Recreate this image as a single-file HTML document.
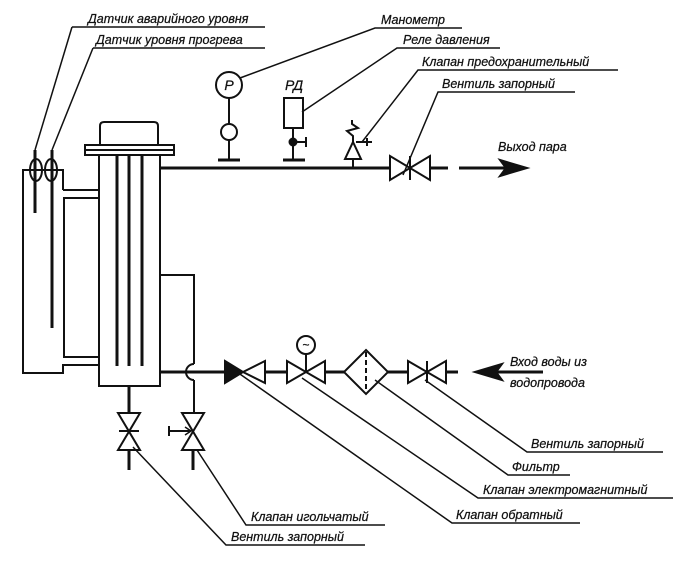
<!DOCTYPE html>
<html><head><meta charset="utf-8"><style>
html,body{margin:0;padding:0;background:#fff}
svg text{font-family:"Liberation Sans","DejaVu Sans",sans-serif;font-style:italic;font-size:12.5px;fill:#111;stroke:#111;stroke-width:0.25}
</style></head><body>
<svg width="700" height="559" viewBox="0 0 700 559" xmlns="http://www.w3.org/2000/svg">
<g fill="none" stroke="#111" stroke-width="2">
<!-- left vessel -->
<polyline points="63,190 63,170 23,170 23,373 63,373 63,365 99,365"/>
<polyline points="63,190 99,190"/>
<rect x="64" y="198" width="35" height="159"/>
<!-- column -->
<polyline points="99,155 99,386 160,386 160,155"/>
<rect x="85" y="145" width="89" height="10"/>
<line x1="85" y1="150" x2="174" y2="150"/>
<path d="M100,145 V126 Q100,122 104,122 H154 Q158,122 158,126 V145"/>
<line x1="117" y1="155" x2="117" y2="366" stroke-width="3"/>
<line x1="129" y1="155" x2="129" y2="366" stroke-width="3"/>
<line x1="142" y1="155" x2="142" y2="366" stroke-width="3"/>
<!-- sensors -->
<line x1="35" y1="150" x2="35" y2="213" stroke-width="3"/>
<line x1="52" y1="150" x2="52" y2="328" stroke-width="3"/>
<ellipse cx="36" cy="170" rx="6" ry="11"/>
<ellipse cx="51" cy="170" rx="6" ry="11"/>
<line x1="35" y1="150" x2="72" y2="27" stroke-width="1.5"/>
<line x1="52" y1="150" x2="93" y2="48" stroke-width="1.5"/>
<line x1="72" y1="27" x2="265" y2="27" stroke-width="1.5"/>
<line x1="93" y1="48" x2="265" y2="48" stroke-width="1.5"/>
<!-- steam line -->
<line x1="160" y1="168" x2="390" y2="168" stroke-width="3"/>
<line x1="430" y1="168" x2="448" y2="168" stroke-width="3"/>
<line x1="459" y1="168" x2="512" y2="168" stroke-width="3"/>
<polygon points="500,160 527,168 500,176 506,168" fill="#111"/>
<!-- manometer -->
<circle cx="229" cy="85" r="13"/>
<line x1="229" y1="98" x2="229" y2="124"/>
<circle cx="229" cy="132" r="8"/>
<line x1="229" y1="140" x2="229" y2="160"/>
<line x1="218" y1="160" x2="240" y2="160" stroke-width="3"/>
<!-- РД -->
<rect x="284" y="98" width="19" height="30"/>
<line x1="293" y1="128" x2="293" y2="160"/>
<circle cx="293" cy="142" r="3.5" fill="#111"/>
<line x1="293" y1="142" x2="306" y2="142"/>
<line x1="306" y1="137" x2="306" y2="147"/>
<line x1="283" y1="160" x2="305" y2="160" stroke-width="3"/>
<!-- safety valve -->
<line x1="353" y1="168" x2="353" y2="159"/>
<polygon points="345,159 361,159 353,142"/>
<polyline points="353,142 353,136 347,131 358,128 352,124 352,120"/>
<line x1="356" y1="142" x2="372" y2="142"/>
<line x1="367" y1="138" x2="367" y2="146"/>
<!-- steam gate valve -->
<polygon points="390,156 390,180 430,156 430,180"/>
<line x1="410" y1="156" x2="410" y2="180"/>
<!-- leaders top right -->
<g stroke-width="1.5">
<polyline points="240,78 375,28 462,28"/>
<polyline points="302,112 397,48 500,48"/>
<polyline points="362,142 418,70 618,70"/>
<polyline points="403,175 438,92 575,92"/>
</g>
<!-- return loop -->
<polyline points="160,275 194,275 194,364"/>
<path d="M194,364 A8,8 0 0 0 194,380"/>
<line x1="194" y1="380" x2="194" y2="413" stroke-width="2"/>
<!-- water line -->
<line x1="160" y1="372" x2="225" y2="372" stroke-width="3"/>
<polygon points="225,361 243,372 225,383" fill="#111"/>
<polygon points="243,372 265,361 265,383"/>
<line x1="265" y1="372" x2="287" y2="372" stroke-width="3"/>
<polygon points="287,361 287,383 325,361 325,383"/>
<line x1="306" y1="372" x2="306" y2="354"/>
<circle cx="306" cy="345" r="9"/>
<line x1="325" y1="372" x2="344" y2="372" stroke-width="3"/>
<polygon points="366,350 388,372 366,394 344,372"/>
<line x1="366" y1="352" x2="366" y2="392" stroke-dasharray="5,3"/>
<line x1="388" y1="372" x2="408" y2="372" stroke-width="3"/>
<polygon points="408,361 408,383 446,361 446,383"/>
<line x1="427" y1="361" x2="427" y2="383"/>
<line x1="446" y1="372" x2="458" y2="372" stroke-width="3"/>
<line x1="488" y1="372" x2="543" y2="372" stroke-width="3"/>
<polygon points="475,372 502,364 496,372 502,380" fill="#111"/>
<!-- bottom valves -->
<line x1="129" y1="386" x2="129" y2="413" stroke-width="3"/>
<polygon points="118,413 140,413 118,450 140,450"/>
<line x1="119" y1="431" x2="139" y2="431"/>
<line x1="129" y1="450" x2="129" y2="470" stroke-width="3"/>
<polygon points="182,413 204,413 182,450 204,450"/>
<line x1="193" y1="450" x2="193" y2="470" stroke-width="3"/>
<line x1="169" y1="431" x2="190" y2="431"/>
<line x1="169" y1="426" x2="169" y2="436"/>
<polyline points="185,427 191,431 185,435" stroke-width="1.5"/>
<!-- bottom leaders -->
<g stroke-width="1.5">
<polyline points="133,447 226,545 365,545"/>
<polyline points="197,450 246,525 385,525"/>
<polyline points="237,372 452,523 580,523"/>
<polyline points="302,378 478,498 673,498"/>
<polyline points="375,380 508,475 570,475"/>
<polyline points="425,380 527,452 663,452"/>
</g>
</g>
<text x="229" y="90" text-anchor="middle" style="font-size:14px">P</text>
<text x="306" y="349" text-anchor="middle" style="font-size:12px;font-style:normal">~</text>
<text x="285" y="90" style="font-size:14px">РД</text>
<text x="88" y="23">Датчик аварийного уровня</text>
<text x="96" y="44">Датчик уровня прогрева</text>
<text x="381" y="24">Манометр</text>
<text x="403" y="44">Реле давления</text>
<text x="422" y="66">Клапан предохранительный</text>
<text x="442" y="88">Вентиль запорный</text>
<text x="498" y="151">Выход пара</text>
<text x="510" y="366">Вход воды из</text>
<text x="510" y="387">водопровода</text>
<text x="531" y="448">Вентиль запорный</text>
<text x="512" y="471">Фильтр</text>
<text x="483" y="494">Клапан электромагнитный</text>
<text x="456" y="519">Клапан обратный</text>
<text x="251" y="521">Клапан игольчатый</text>
<text x="231" y="541">Вентиль запорный</text>
</svg>
</body></html>
